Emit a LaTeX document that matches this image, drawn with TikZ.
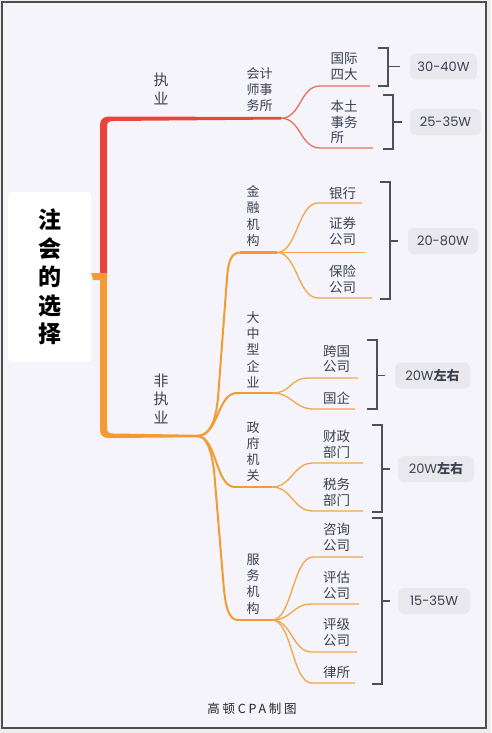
\documentclass[tikz,border=0pt]{standalone}
\usepackage{fontspec}
\setmainfont{Noto Sans CJK SC}
\newfontfamily\numfont{Poppins}
\newfontfamily\footfont[LetterSpace=22]{Noto Sans CJK SC}
\definecolor{pagebg}{HTML}{EDEDED}
\definecolor{bg}{HTML}{F5F4FA}
\definecolor{framec}{HTML}{4D4D4D}
\definecolor{redc}{HTML}{E8453C}
\definecolor{redsub}{HTML}{E9705F}
\definecolor{orc}{HTML}{F39B32}
\definecolor{orsub}{HTML}{F2A54B}
\definecolor{txt}{HTML}{3C4150}
\definecolor{brkc}{HTML}{505050}
\definecolor{valbg}{HTML}{E9E8ED}
\begin{document}
\begin{tikzpicture}[x=1pt,y=-1pt,
  lone/.style={font=\fontsize{15}{18.5}\selectfont, text=txt, align=center, inner sep=0pt},
  ltwo/.style={font=\fontsize{13}{16.3}\selectfont, text=txt, align=center, inner sep=0pt},
  lthree/.style={font=\fontsize{13.5}{15.8}\selectfont, text=txt, align=left, inner sep=0pt},
  rootbox/.style={fill=white, rounded corners=4pt, inner sep=0pt, minimum width=83pt, minimum height=170pt, font=\fontsize{23}{28.5}\selectfont\bfseries, text=black, align=center},
  valbox/.style={fill=valbg, rounded corners=6pt, inner sep=0pt, minimum height=26pt, font=\numfont\fontsize{13}{15}\selectfont, text=txt},
  brk/.style={draw=brkc, line width=1.8pt},
  rsub/.style={draw=redsub, line width=1.3pt},
  osub/.style={draw=orsub, line width=1.3pt},
  ocurve/.style={draw=orc, line width=2pt},
  ohor/.style={draw=orc, line width=2.8pt},
]
% page and frame
\fill[pagebg] (0,0) rectangle (491,733);
\useasboundingbox (0,0) rectangle (491,733);
\fill[bg] (2,2) rectangle (486,728);
\draw[framec, line width=2pt] (2,2) rectangle (486,728);

% root
\node[rootbox] (root) at (49.5,277) {注\\会\\的\\选\\择};

% trunk
\coordinate (tj) at (103.5,276);
\fill[orc] (root.east |- 0,273) -- (103,273) -- (103,280) -- ([xshift=2pt]root.east |- 0,280) -- cycle;
\fill[redc] (100,273) -- (100,125) .. controls (100,120) and (103,116.5) .. (109,116.5) -- (281,117) -- (281,119.5) -- (113,121) .. controls (109,121) and (107,122.5) .. (107,126) -- (107,273) -- cycle;
\fill[orc] (100,273) -- (100,430) .. controls (100,435) and (103,438) .. (109,438) -- (198,437.3) -- (198,434.8) -- (113,433.5) .. controls (109,433.5) and (107,432) .. (107,428) -- (107,273) -- cycle;

% level 1 labels
\node[lone] (zy) at (161,89) {执\\业};
\node[lone] (fzy) at (161,398.5) {非\\执\\业};

% level 2 labels
\node[ltwo, align=left] (kj) at (259.5,89.5) {会计\\师事\\务所};
\node[ltwo] (jr) at (253,216) {金\\融\\机\\构};
\node[ltwo] (dz) at (253,349.5) {大\\中\\型\\企\\业};
\node[ltwo] (zf) at (253,451.5) {政\\府\\机\\关};
\node[ltwo] (fw) at (253,584) {服\\务\\机\\构};

% level 3 labels
\node[lthree] (gj) at (344,67) {国际\\四大};
\node[lthree] (bt) at (344,122) {本土\\事务\\所};
\node[lthree] (yh) at (342.5,193) {银行};
\node[lthree] (zq) at (342.5,231.5) {证券\\公司};
\node[lthree] (bx) at (342.5,279.5) {保险\\公司};
\node[lthree] (kg) at (336.5,359) {跨国\\公司};
\node[lthree] (gq) at (336.5,398) {国企};
\node[lthree] (cz) at (336.5,444) {财政\\部门};
\node[lthree] (sw) at (336.5,492) {税务\\部门};
\node[lthree] (zx) at (336.5,537) {咨询\\公司};
\node[lthree] (pg) at (336.5,585) {评估\\公司};
\node[lthree] (pj) at (336.5,632) {评级\\公司};
\node[lthree] (ls) at (336.5,672) {律所};

% red sub branches
\coordinate (kjb) at (281,118.2);
\coordinate (gja) at (320,86); \coordinate (gjb) at (370,86);
\coordinate (bta) at (320,148); \coordinate (btb) at (373,148);
\draw[rsub] (kjb) .. controls +(20,0) and +(-20,0) .. (gja) -- (gjb);
\draw[rsub] (kjb) .. controls +(20,0) and +(-20,0) .. (bta) -- (btb);

% orange level 2
\coordinate (bp) at (197,436);
\coordinate (jra) at (240,252.5); \coordinate (jrb) at (277,252.5);
\coordinate (dza) at (237,393); \coordinate (dzb) at (273,393);
\coordinate (zfa) at (235,487); \coordinate (zfb) at (272,487);
\coordinate (fwa) at (238,620); \coordinate (fwb) at (272,620);
\draw[ocurve] (bp) .. controls +(14,0) and +(-2,20) .. (218,398) -- (227,278) .. controls +(1.2,-16) and +(-9,0) .. (jra);
\draw[ocurve] (bp) .. controls +(22,0) and +(-20,0) .. (dza);
\draw[ocurve] (bp) .. controls +(20,0) and +(-20,0) .. (zfa);
\draw[ocurve] (bp) .. controls +(10,0) and +(-3,-20) .. (214,470) -- (224,590) .. controls +(2,18) and +(-9,0) .. (fwa);
\draw[ohor] (jra) -- (jrb);
\draw[ohor] (dza) -- (dzb);
\draw[ohor] (zfa) -- (zfb);
\draw[ohor] (fwa) -- (fwb);

% orange sub branches
\coordinate (yha) at (318,203); \coordinate (yhb) at (362,203);
\coordinate (zqb) at (365,252.5);
\coordinate (bxa) at (318,298); \coordinate (bxb) at (372,298);
\draw[osub] (jrb) .. controls +(20,0) and +(-20,0) .. (yha) -- (yhb);
\draw[osub] (jrb) -- (zqb);
\draw[osub] (jrb) .. controls +(20,0) and +(-20,0) .. (bxa) -- (bxb);

\coordinate (kga) at (308,378); \coordinate (kgb) at (358,378);
\coordinate (gqa) at (313,409); \coordinate (gqb) at (355,409);
\draw[osub] (dzb) .. controls +(18,0) and +(-18,0) .. (kga) -- (kgb);
\draw[osub] (dzb) .. controls +(18,0) and +(-18,0) .. (gqa) -- (gqb);

\coordinate (cza) at (313,463); \coordinate (czb) at (363,463);
\coordinate (swa) at (313,511); \coordinate (swb) at (363,511);
\draw[osub] (zfb) .. controls +(20,0) and +(-20,0) .. (cza) -- (czb);
\draw[osub] (zfb) .. controls +(20,0) and +(-20,0) .. (swa) -- (swb);

\coordinate (zxa) at (313,557); \coordinate (zxb) at (363,557);
\coordinate (pga) at (312,604); \coordinate (pgb) at (359,604);
\coordinate (pja) at (312,652); \coordinate (pjb) at (357,652);
\coordinate (lsa) at (312,683); \coordinate (lsb) at (355,683);
\draw[osub] (fwb) .. controls +(20,0) and +(-20,0) .. (zxa) -- (zxb);
\draw[osub] (fwb) .. controls +(20,0) and +(-20,0) .. (pga) -- (pgb);
\draw[osub] (fwb) .. controls +(20,0) and +(-20,0) .. (pja) -- (pjb);
\draw[osub] (fwb) .. controls +(20,0) and +(-20,0) .. (lsa) -- (lsb);

% value boxes
\node[valbox, minimum width=67pt] (v1) at (443.5,66.5) {30-40W};
\node[valbox, minimum width=71pt] (v2) at (445.5,122) {25-35W};
\node[valbox, minimum width=70pt] (v3) at (443,241) {20-80W};
\node[valbox, minimum width=75pt] (v4) at (432.5,375.5) {20W{\rmfamily\bfseries 左右}};
\node[valbox, minimum width=76pt] (v5) at (436,469) {20W{\rmfamily\bfseries 左右}};
\node[valbox, minimum width=72pt] (v6) at (434,601) {15-35W};

% brackets
\draw[brk] (378,48) -- (388,48) -- (388,86) -- (378,86);
\coordinate (k1) at (388,66.5);
\draw[brk, shorten >=10pt] (k1) -- (v1.west);
\draw[brk] (383,95) -- (393,95) -- (393,149) -- (383,149);
\coordinate (k2) at (393,122);
\draw[brk, shorten >=8pt] (k2) -- (v2.west);
\draw[brk] (380,182) -- (390,182) -- (390,299) -- (380,299);
\coordinate (k3) at (390,241);
\draw[brk, shorten >=10pt] (k3) -- (v3.west);
\draw[brk] (367,340) -- (377,340) -- (377,409) -- (367,409);
\coordinate (k4) at (377,375.5);
\draw[brk, shorten >=10pt] (k4) -- (v4.west);
\draw[brk] (372,425) -- (382,425) -- (382,512) -- (372,512);
\coordinate (k5) at (382,469);
\draw[brk, shorten >=8pt] (k5) -- (v5.west);
\draw[brk] (372,518) -- (382,518) -- (382,684) -- (372,684);
\coordinate (k6) at (382,601);
\draw[brk, shorten >=8pt] (k6) -- (v6.west);

% footer
\node[font=\footfont\fontsize{12.5}{15}\selectfont, text=black!85, inner sep=0pt] (ft) at (252,709) {高顿CPA制图};
\end{tikzpicture}
\end{document}
